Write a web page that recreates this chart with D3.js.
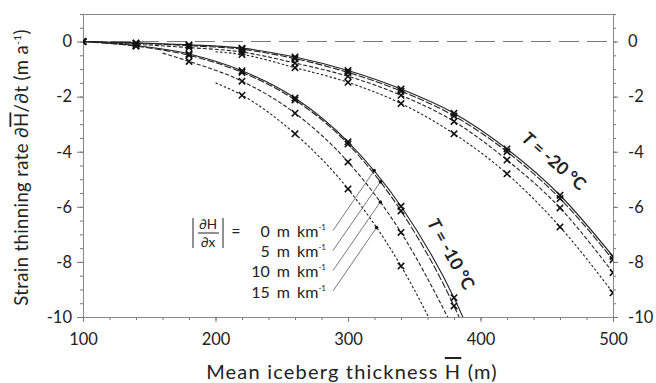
<!DOCTYPE html>
<html>
<head>
<meta charset="utf-8">
<script src="https://cdn.jsdelivr.net/npm/d3@7"></script>
<style>
body { margin: 0; background: #fff; }
text { font-family: Lato, "Open Sans", sans-serif; fill: #222; }
</style>
</head>
<body>
<script>
// thicknesses where the model was run (the x markers)
var thicknessMarks = [100, 140, 180, 220, 260, 300, 340, 380, 420, 460, 500];

// T = -20 C, one list per |dH/dx| : [thickness (m), dH/dt (m/a)]
var t20g0  = [[100,0],[140,-0.05],[180,-0.12],[220,-0.24],[260,-0.56],[300,-1.05],[340,-1.72],[380,-2.6],[420,-3.9],[460,-5.58],[500,-7.8]];
var t20g5  = [[100,0],[140,-0.06],[180,-0.15],[220,-0.28],[260,-0.62],[300,-1.12],[340,-1.8],[380,-2.7],[420,-4.0],[460,-5.7],[500,-7.92]];
var t20g10 = [[100,0],[140,-0.1],[180,-0.22],[220,-0.38],[260,-0.78],[300,-1.26],[340,-1.95],[380,-2.9],[420,-4.3],[460,-6.04],[500,-8.39]];
var t20g15 = [[200,-0.37],[220,-0.47],[260,-0.95],[300,-1.48],[340,-2.25],[380,-3.35],[420,-4.8],[460,-6.73],[500,-9.12]];

// T = -10 C (last points run off the bottom of the plot)
var t10g0  = [[100,0],[140,-0.15],[180,-0.45],[220,-1.06],[260,-2.05],[300,-3.64],[340,-5.98],[380,-9.3],[420,-14.0]];
var t10g5  = [[100,0],[140,-0.17],[180,-0.5],[220,-1.12],[260,-2.12],[300,-3.72],[340,-6.15],[380,-9.6],[420,-14.4]];
var t10g10 = [[160,-0.42],[180,-0.72],[220,-1.44],[260,-2.6],[300,-4.37],[340,-6.93],[380,-10.45]];
var t10g15 = [[200,-1.5],[220,-1.95],[260,-3.35],[300,-5.35],[340,-8.15],[380,-11.9]];

var gradients = ["0", "5", "10", "15"];
var tempLabels = ["-20", "-10"];

var xTicks = [100, 200, 300, 400, 500];
var yTicks = [0, -2, -4, -6, -8, -10];

var dashes = [null, "7,2", "4,2", "2.5,2"];

var screen = {width: 656, height: 383};
var plot = {left: 83, right: 613, top: 14, bottom: 317};

var x = d3.scaleLinear().domain([100, 500]).range([plot.left, plot.right]);
var y = d3.scaleLinear().domain([-10, 1]).range([plot.bottom, plot.top]);

var svg = d3.select("body")
            .append("svg")
            .attr("width", screen.width)
            .attr("height", screen.height);

svg.append("clipPath").attr("id", "clip")
   .append("rect")
   .attr("x", plot.left).attr("y", plot.top)
   .attr("width", plot.right - plot.left)
   .attr("height", plot.bottom - plot.top);

// axes
var fmt = function(d) { return String(d); };

var styleAxis = function(g) {
  g.selectAll("path.domain").attr("stroke", "#888");
  g.selectAll("line").attr("stroke", "#777");
  g.selectAll("text").attr("font-size", 16.5).attr("fill", "#222")
   .attr("font-family", "Lato, sans-serif");
};

svg.append("g").attr("transform", "translate(" + plot.left + ",0)")
   .call(d3.axisLeft(y).tickValues(d3.range(-10, 1.01, 0.5)).tickSize(3).tickSizeOuter(0).tickFormat(""))
   .call(styleAxis);
svg.append("g").attr("transform", "translate(" + plot.left + ",0)")
   .call(d3.axisLeft(y).tickValues(yTicks).tickSize(6).tickPadding(5).tickSizeOuter(0).tickFormat(fmt))
   .call(styleAxis);

svg.append("g").attr("transform", "translate(" + plot.right + ",0)")
   .call(d3.axisRight(y).tickValues(d3.range(-10, 1.01, 0.5)).tickSize(3).tickSizeOuter(0).tickFormat(""))
   .call(styleAxis);
svg.append("g").attr("transform", "translate(" + plot.right + ",0)")
   .call(d3.axisRight(y).tickValues(yTicks).tickSize(5).tickPadding(10).tickSizeOuter(0).tickFormat(fmt))
   .call(styleAxis);

svg.append("g").attr("transform", "translate(0," + plot.bottom + ")")
   .call(d3.axisBottom(x).tickValues(d3.range(100, 501, 20)).tickSize(3).tickSizeOuter(0).tickFormat(""))
   .call(styleAxis);
svg.append("g").attr("transform", "translate(0," + plot.bottom + ")")
   .call(d3.axisBottom(x).tickValues(xTicks).tickSize(5).tickPadding(11).tickSizeOuter(0).tickFormat(fmt))
   .call(styleAxis);

svg.append("line")
   .attr("x1", plot.left).attr("x2", plot.right)
   .attr("y1", plot.top + 0.5).attr("y2", plot.top + 0.5)
   .attr("stroke", "#888");

// zero line
svg.append("line")
   .attr("x1", plot.left).attr("x2", plot.right)
   .attr("y1", y(0)).attr("y2", y(0))
   .attr("stroke", "#777")
   .attr("stroke-dasharray", "20,8");

// curves
var series = [
  {data: t20g0, g: 0, t: 0}, {data: t20g5, g: 1, t: 0},
  {data: t20g10, g: 2, t: 0}, {data: t20g15, g: 3, t: 0},
  {data: t10g0, g: 0, t: 1}, {data: t10g5, g: 1, t: 1},
  {data: t10g10, g: 2, t: 1}, {data: t10g15, g: 3, t: 1}
];

var lineGen = d3.line()
                .x(function(d) { return x(d[0]); })
                .y(function(d) { return y(d[1]); })
                .curve(d3.curveMonotoneX);

var curves = svg.append("g").attr("clip-path", "url(#clip)");

var paths = curves.selectAll("path")
      .data(series)
      .enter()
      .append("path")
      .attr("d", function(d) { return lineGen(d.data); })
      .attr("fill", "none")
      .attr("stroke", "#222")
      .attr("stroke-width", 1.1)
      .attr("stroke-dasharray", function(d) { return dashes[d.g]; });

var marks = [];
series.forEach(function(s) {
  s.data.forEach(function(p) {
    if (thicknessMarks.indexOf(p[0]) >= 0 && p[1] >= -10) marks.push(p);
  });
});

curves.selectAll("path.mark")
      .data(marks)
      .enter()
      .append("path")
      .classed("mark", true)
      .attr("transform", function(d) { return "translate(" + x(d[0]) + "," + y(d[1]) + ")"; })
      .attr("d", "M-3.2,-3.2L3.2,3.2M-3.2,3.2L3.2,-3.2")
      .attr("stroke", "#111")
      .attr("stroke-width", 1.6);

// legend
var legend = svg.append("g");
var rowBase = [237, 257, 277, 297.5];

legend.selectAll("text.row")
      .data(gradients)
      .enter()
      .append("text")
      .classed("row", true)
      .attr("x", 326)
      .attr("y", function(d, i) { return rowBase[i]; })
      .attr("text-anchor", "end")
      .attr("font-size", 16)
      .attr("word-spacing", 3)
      .each(function(d) {
        var t = d3.select(this);
        t.append("tspan").text(d + " m km");
        t.append("tspan").attr("dy", -7).attr("font-size", 8).text("-1");
      });

legend.append("text").attr("x", 208).attr("y", 229).attr("text-anchor", "middle").attr("font-size", 13.5).text("∂H");
legend.append("text").attr("x", 208).attr("y", 246.5).attr("text-anchor", "middle").attr("font-size", 13.5).text("∂x");
legend.append("line").attr("x1", 198).attr("x2", 219).attr("y1", 233).attr("y2", 233).attr("stroke", "#222");
legend.append("line").attr("x1", 193).attr("x2", 193).attr("y1", 218).attr("y2", 248).attr("stroke", "#222");
legend.append("line").attr("x1", 223).attr("x2", 223).attr("y1", 218).attr("y2", 248).attr("stroke", "#222");
legend.append("text").attr("x", 236).attr("y", 237).attr("text-anchor", "middle").attr("font-size", 16).text("=");

// leader lines from the labels up to the T = -10 C curves
var k = 1.46;
var hit = function(node, x0, y0) {
  var L = node.getTotalLength();
  for (var l = 0; l <= L; l += 0.5) {
    var p = node.getPointAtLength(l);
    if (p.x > x0 && (y0 - p.y) - k * (p.x - x0) <= 0) return p;
  }
  return null;
};

paths.filter(function(d) { return d.t === 1; })
     .each(function(d) {
       var y0 = rowBase[d.g] - 6.5, x0 = 333;
       var p = hit(this, x0, y0);
       if (!p) return;
       legend.append("line")
             .attr("x1", x0).attr("y1", y0).attr("x2", p.x).attr("y2", p.y)
             .attr("stroke", "#555").attr("stroke-width", 0.8);
       legend.append("circle")
             .attr("cx", p.x).attr("cy", p.y).attr("r", 1.8)
             .attr("fill", "#111");
     });

// temperature labels
var tempPos = [[554, 161, 41], [451, 254, 61]];
svg.selectAll("text.temp")
   .data(tempLabels)
   .enter()
   .append("text")
   .classed("temp", true)
   .attr("transform", function(d, i) { return "translate(" + tempPos[i][0] + "," + tempPos[i][1] + ") rotate(" + tempPos[i][2] + ")"; })
   .attr("text-anchor", "middle")
   .attr("dy", "0.35em")
   .attr("font-size", 17.5)
   .attr("font-weight", "bold")
   .each(function(d) {
     var t = d3.select(this);
     t.append("tspan").attr("font-style", "italic").text("T");
     t.append("tspan").text(" = " + d + " °C");
   });

// axis titles
var xt = svg.append("text")
            .attr("x", (plot.left + plot.right) / 2 + 4)
            .attr("y", 379)
            .attr("text-anchor", "middle")
            .attr("font-size", 20)
            .attr("letter-spacing", 1.2);
xt.append("tspan").text("Mean iceberg thickness ");
xt.append("tspan").style("text-decoration", "overline").text("H");
xt.append("tspan").text(" (m)");

var yt = svg.append("text")
            .attr("transform", "translate(22," + ((plot.top + plot.bottom) / 2 + 2) + ") rotate(-90)")
            .attr("text-anchor", "middle")
            .attr("dy", "0.35em")
            .attr("font-size", 18.5)
            .attr("letter-spacing", 0.4);
yt.append("tspan").text("Strain thinning rate ∂");
yt.append("tspan").style("text-decoration", "overline").text("H");
yt.append("tspan").text("/∂t (m a");
yt.append("tspan").attr("dy", -7).attr("font-size", 10).text("-1");
yt.append("tspan").attr("dy", 7).text(")");
</script>
</body>
</html>
